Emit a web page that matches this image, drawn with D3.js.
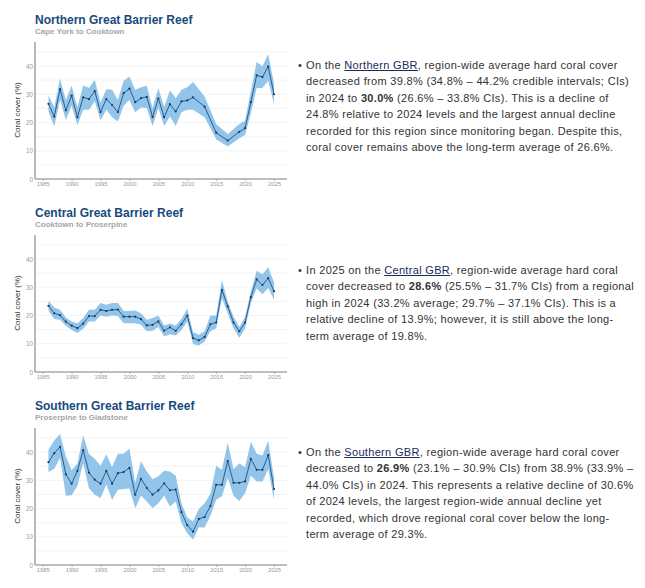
<!DOCTYPE html>
<html>
<head>
<script src="https://d3js.org/d3.v7.min.js"></script>
<style>
    body { margin: 0; background: #fff; font-family: "Liberation Sans", Arial, sans-serif; }
    .panel { position: absolute; left: 0; }
    .blurb { position: absolute; left: 306px; font-size: 11px; color: #333; line-height: 16.5px; letter-spacing: 0.32px; }
    .blurb div { white-space: nowrap; }
    .bullet { position: absolute; left: -8px; top: 0; }
    .blurb a { color: #1b2a5c; text-decoration: underline; }
</style>
</head>
<body>
<div id="page"></div>
<script>
    // hard coral cover, mean with credible intervals
    var northYears = [1986, 1987, 1988, 1989, 1990, 1991, 1992, 1993, 1994, 1995, 1996, 1997, 1998, 1999, 2000,
        2001, 2002, 2003, 2004, 2005, 2006, 2007, 2008, 2009, 2010, 2011, 2013, 2015, 2017, 2019, 2020,
        2021, 2022, 2023, 2024, 2025];
    var northMean = [26.6, 22.1, 31.8, 24.3, 29.5, 21.9, 28.9, 28.3, 31.1, 23.7, 28.3, 26.2, 23.7, 30.4, 32.0,
        27.2, 28.6, 29.1, 21.9, 28.5, 21.9, 26.5, 23.9, 27.5, 27.8, 28.9, 25.6, 16.4, 13.6, 16.7, 18.0,
        27.2, 36.7, 36.1, 39.8, 30.0];
    var northLower = [23.9, 18.6, 28.0, 20.9, 25.9, 19.1, 24.5, 24.5, 27.5, 20.7, 24.5, 21.9, 20.4, 25.9, 28.0,
        23.6, 25.3, 25.1, 18.8, 25.1, 18.8, 22.1, 18.8, 23.6, 24.5, 24.5, 21.9, 14.1, 11.5, 14.4, 15.6,
        23.3, 32.2, 32.2, 34.8, 26.6];
    var northUpper = [29.5, 25.4, 35.6, 28.0, 33.0, 25.4, 33.1, 32.2, 35.1, 27.1, 31.8, 31.6, 28.0, 34.8, 36.3,
        31.6, 32.5, 33.0, 25.1, 32.2, 25.4, 31.4, 28.6, 31.6, 32.5, 34.3, 29.2, 19.5, 15.9, 19.5, 20.7,
        31.0, 41.4, 39.9, 44.2, 33.8];

    var centralYears = d3.range(1986, 2026);
    var centralMean = [23.4, 20.8, 20.1, 17.8, 16.4, 15.5, 17.1, 19.8, 19.8, 22.0, 21.6, 22.0, 22.1, 19.6, 19.6,
        19.6, 18.7, 16.5, 16.7, 17.9, 14.6, 15.8, 14.6, 16.9, 20.0, 12.0, 11.2, 12.4, 16.9, 17.5,
        29.1, 23.2, 17.5, 14.4, 17.5, 26.5, 32.8, 30.8, 33.2, 28.6];
    var centralLower = [21.6, 18.8, 18.5, 16.4, 14.9, 13.8, 15.3, 17.9, 17.9, 20.0, 19.6, 20.0, 19.8, 17.3, 17.3,
        17.3, 16.7, 14.4, 14.6, 15.9, 12.6, 13.4, 12.9, 14.9, 17.9, 9.9, 9.4, 10.8, 14.4, 15.5,
        26.1, 20.8, 15.5, 12.0, 15.5, 24.4, 29.6, 27.5, 29.7, 25.5];
    var centralUpper = [25.2, 22.8, 22.0, 19.3, 17.9, 17.2, 19.1, 22.0, 22.0, 24.4, 23.8, 24.4, 24.4, 21.6, 21.6,
        21.8, 20.8, 18.5, 19.1, 20.0, 16.5, 17.2, 16.5, 18.8, 22.4, 14.1, 13.2, 14.4, 20.0, 19.9,
        32.6, 24.9, 19.6, 15.9, 19.6, 28.5, 35.8, 34.6, 37.1, 31.7];

    var southYears = d3.range(1986, 2026);
    var southMean = [36.4, 39.6, 41.8, 32.1, 28.8, 33.3, 40.7, 32.7, 30.2, 28.8, 33.3, 28.8, 32.5, 32.9, 34.4,
        24.9, 30.5, 27.3, 24.9, 26.4, 28.9, 26.5, 26.7, 18.7, 14.1, 11.8, 16.3, 17.0, 20.9, 28.4,
        28.4, 36.8, 29.1, 29.1, 29.6, 37.6, 33.7, 33.7, 38.9, 26.9];
    var southLower = [32.9, 34.1, 37.9, 24.5, 24.7, 28.0, 36.1, 27.2, 24.9, 23.7, 28.5, 23.1, 26.6, 26.9, 27.1,
        20.1, 24.5, 22.5, 20.1, 21.9, 24.5, 20.7, 22.5, 14.8, 11.2, 8.9, 13.4, 13.3, 17.4, 23.1,
        24.3, 30.8, 24.5, 22.7, 25.4, 31.6, 29.6, 29.6, 33.9, 23.1];
    var southUpper = [40.8, 44.1, 46.4, 38.5, 33.5, 35.9, 45.9, 39.3, 37.6, 35.1, 39.1, 34.7, 39.4, 39.4, 41.2,
        29.0, 36.7, 33.1, 30.4, 31.4, 33.4, 33.1, 31.6, 21.9, 16.8, 15.4, 19.8, 21.9, 25.2, 35.1,
        33.7, 43.4, 34.0, 35.9, 34.6, 43.6, 39.4, 38.8, 44.0, 30.9];

    var yTicks = [0, 10, 20, 30, 40];
    var gridValues = [5, 10, 15, 20, 25, 30, 35, 40, 45];
    var xTicks = [1985, 1990, 1995, 2000, 2005, 2010, 2015, 2020, 2025];

    var regions = [
        { title: "Northern Great Barrier Reef", sub: "Cape York to Cooktown",
          years: northYears, mean: northMean, lower: northLower, upper: northUpper },
        { title: "Central Great Barrier Reef", sub: "Cooktown to Proserpine",
          years: centralYears, mean: centralMean, lower: centralLower, upper: centralUpper },
        { title: "Southern Great Barrier Reef", sub: "Proserpine to Gladstone",
          years: southYears, mean: southMean, lower: southLower, upper: southUpper }
    ];

    var panelHeight = 193;
    var axisLeft = 35, axisRight = 287, axisBottom = 179, axisTop = 42;

    var x = d3.scaleLinear().domain([1985, 2025]).range([42.7, 274]);
    var y = d3.scaleLinear().domain([0, 48.5]).range([axisBottom, axisTop]);

    var page = d3.select("#page");

    regions.forEach(function (r, i) {
        var svg = page.append("svg")
            .attr("class", "panel")
            .style("top", (i * panelHeight) + "px")
            .attr("width", 290)
            .attr("height", panelHeight);

        svg.append("text")
            .attr("x", 35).attr("y", 23.5)
            .attr("font-size", 12).attr("font-weight", "bold")
            .attr("fill", "#174a7c")
            .text(r.title);

        svg.append("text")
            .attr("x", 35).attr("y", 34)
            .attr("font-size", 8).attr("font-weight", "bold")
            .attr("fill", "#a6a6a6")
            .text(r.sub);

        // gridlines
        svg.selectAll(".grid")
            .data(gridValues)
            .enter().append("line")
            .attr("x1", axisLeft).attr("x2", axisRight)
            .attr("y1", function (d) { return y(d); })
            .attr("y2", function (d) { return y(d); })
            .attr("stroke", "#f0f0f0")
            .attr("stroke-width", 0.8);

        var pts = r.years.map(function (yr, j) {
            return { year: yr, mean: r.mean[j], lower: r.lower[j], upper: r.upper[j] };
        });

        var band = d3.area()
            .x(function (d) { return x(d.year); })
            .y0(function (d) { return y(d.lower); })
            .y1(function (d) { return y(d.upper); });

        svg.append("path")
            .datum(pts)
            .attr("d", band)
            .attr("fill", "#93c5ea");

        var line = d3.line()
            .x(function (d) { return x(d.year); })
            .y(function (d) { return y(d.mean); });

        svg.append("path")
            .datum(pts)
            .attr("d", line)
            .attr("fill", "none")
            .attr("stroke", "#285d8f")
            .attr("stroke-width", 1);

        svg.selectAll(".pt")
            .data(pts)
            .enter().append("circle")
            .attr("cx", function (d) { return x(d.year); })
            .attr("cy", function (d) { return y(d.mean); })
            .attr("r", 1.1)
            .attr("fill", "#173a5e");

        // axes
        var yAxis = d3.axisLeft(y).tickValues(yTicks).tickSize(0).tickPadding(2);
        var gy = svg.append("g").attr("transform", "translate(" + axisLeft + ",0)").call(yAxis);
        gy.select(".domain").remove();
        gy.selectAll("text").attr("font-size", 6.3).attr("fill", "#9a9a9a").attr("font-family", "Liberation Sans, Arial");

        var xAxis = d3.axisBottom(x).tickValues(xTicks).tickFormat(d3.format("d")).tickSize(2).tickPadding(1);
        var gx = svg.append("g").attr("transform", "translate(0," + axisBottom + ")").call(xAxis);
        gx.select(".domain").remove();
        gx.selectAll("line").attr("stroke", "#b0b0b0");
        gx.selectAll("text").attr("font-size", 5.8).attr("fill", "#9a9a9a").attr("font-family", "Liberation Sans, Arial");

        svg.append("line")
            .attr("x1", axisLeft).attr("x2", axisLeft)
            .attr("y1", axisTop).attr("y2", axisBottom)
            .attr("stroke", "#a8a8a8").attr("stroke-width", 1.6);
        svg.append("line")
            .attr("x1", axisLeft).attr("x2", axisRight)
            .attr("y1", axisBottom).attr("y2", axisBottom)
            .attr("stroke", "#a8a8a8").attr("stroke-width", 1.6);

        svg.append("text")
            .attr("transform", "translate(20," + 110 + ") rotate(-90)")
            .attr("text-anchor", "middle")
            .attr("font-size", 8)
            .attr("fill", "#333")
            .text("Coral cover (%)");
    });

    // text beside the charts, one entry per rendered line
    var blurbs = [
        { top: 56.75, lines: [
            'On the <a>Northern GBR</a>, region-wide average hard coral cover',
            'decreased from 39.8% (34.8% – 44.2% credible intervals; CIs)',
            'in 2024 to <b>30.0%</b> (26.6% – 33.8% CIs). This is a decline of',
            '24.8% relative to 2024 levels and the largest annual decline',
            'recorded for this region since monitoring began. Despite this,',
            'coral cover remains above the long-term average of 26.6%.'] },
        { top: 261.75, lines: [
            'In 2025 on the <a>Central GBR</a>, region-wide average hard coral',
            'cover decreased to <b>28.6%</b> (25.5% – 31.7% CIs) from a regional',
            'high in 2024 (33.2% average; 29.7% – 37.1% CIs). This is a',
            'relative decline of 13.9%; however, it is still above the long-',
            'term average of 19.8%.'] },
        { top: 443.5, lines: [
            'On the <a>Southern GBR</a>, region-wide average hard coral cover',
            'decreased to <b>26.9%</b> (23.1% – 30.9% CIs) from 38.9% (33.9% –',
            '44.0% CIs) in 2024. This represents a relative decline of 30.6%',
            'of 2024 levels, the largest region-wide annual decline yet',
            'recorded, which drove regional coral cover below the long-',
            'term average of 29.3%.'] }
    ];

    blurbs.forEach(function (b) {
        var div = page.append("div").attr("class", "blurb").style("top", b.top + "px");
        div.append("span").attr("class", "bullet").text("•");
        div.selectAll(".ln").data(b.lines).enter().append("div").html(function (d) { return d; });
    });
</script>
</body>
</html>
